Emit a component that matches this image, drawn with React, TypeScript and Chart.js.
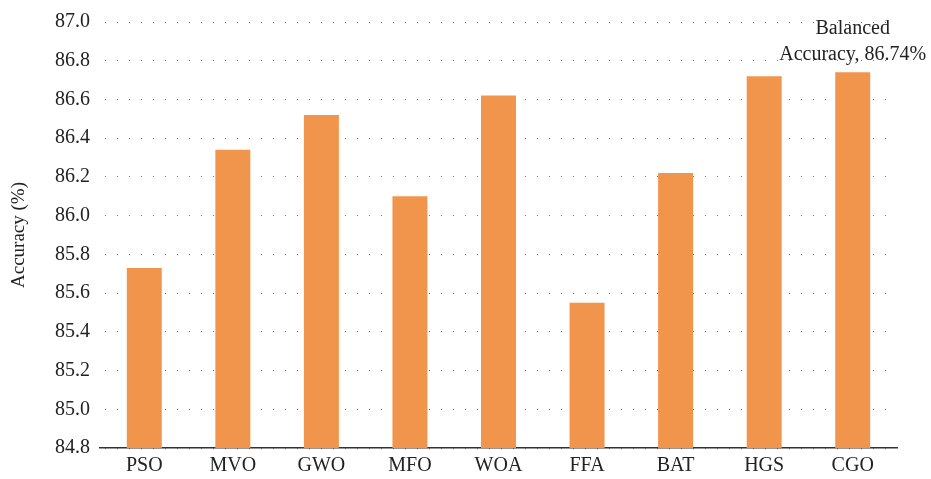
import React, { useEffect, useRef } from "react";
import { Chart, registerables } from "chart.js";

Chart.register(...registerables);

const categories = ["PSO", "MVO", "GWO", "MFO", "WOA", "FFA", "BAT", "HGS", "CGO"];
const accuracy = [85.73, 86.34, 86.52, 86.1, 86.62, 85.55, 86.22, 86.72, 86.74];
const annotationLines = ["Balanced", "Accuracy, 86.74%"];
const yMin = 84.8;
const yMax = 87.0;
const yStep = 0.2;

const FONT = "'Liberation Serif', 'DejaVu Serif', serif";

const annotationPlugin = {
  id: "bestAnnotation",
  afterDatasetsDraw(chart: any) {
    const meta = chart.getDatasetMeta(0);
    const idx = accuracy.length - 1;
    const bar = meta.data[idx];
    if (!bar) return;
    const ctx = chart.ctx;
    ctx.save();
    ctx.font = `20px ${FONT}`;
    ctx.fillStyle = "#222";
    ctx.textAlign = "center";
    ctx.textBaseline = "alphabetic";
    ctx.fillText(annotationLines[0], bar.x, bar.y - 38);
    ctx.fillText(annotationLines[1], bar.x, bar.y - 12);
    ctx.restore();
  },
};

export default function App() {
  const ref = useRef<HTMLCanvasElement | null>(null);

  useEffect(() => {
    if (!ref.current) return;
    const chart = new Chart(ref.current, {
      type: "bar",
      data: {
        labels: categories,
        datasets: [
          {
            label: "Accuracy",
            data: accuracy,
            backgroundColor: "#F2954C",
            barPercentage: 0.395,
            categoryPercentage: 1,
          },
        ],
      },
      options: {
        animation: false,
        responsive: true,
        maintainAspectRatio: false,
        layout: { padding: { top: 19, right: 34, left: 0, bottom: 0 } },
        plugins: {
          legend: { display: false },
          tooltip: { enabled: false },
        },
        scales: {
          x: {
            grid: { display: false, drawTicks: false },
            border: { display: true, color: "#333", width: 1.5 },
            ticks: {
              color: "#222",
              font: { family: FONT, size: 20 },
              padding: 6,
            },
            afterFit(scale: any) {
              scale.height = 31;
            },
          },
          y: {
            min: yMin,
            max: yMax,
            grid: {
              color: "#777",
              lineWidth: 1,
              drawTicks: false,
            },
            border: { display: false, dash: [1, 11], dashOffset: 7 },
            ticks: {
              stepSize: yStep,
              color: "#222",
              font: { family: FONT, size: 20 },
              padding: 10,
              callback: (v: any) => Number(v).toFixed(1),
            },
            title: {
              display: true,
              text: "Accuracy (%)",
              color: "#222",
              font: { family: FONT, size: 19 },
              padding: { top: 8, bottom: 4 },
            },
            afterFit(scale: any) {
              scale.width = 100;
            },
          },
        },
      },
      plugins: [annotationPlugin],
    } as any);
    return () => chart.destroy();
  }, []);

  return (
    <div style={{ position: "fixed", left: 0, top: 0, width: 931, height: 479, background: "#fff" }}>
      <canvas ref={ref} />
    </div>
  );
}
